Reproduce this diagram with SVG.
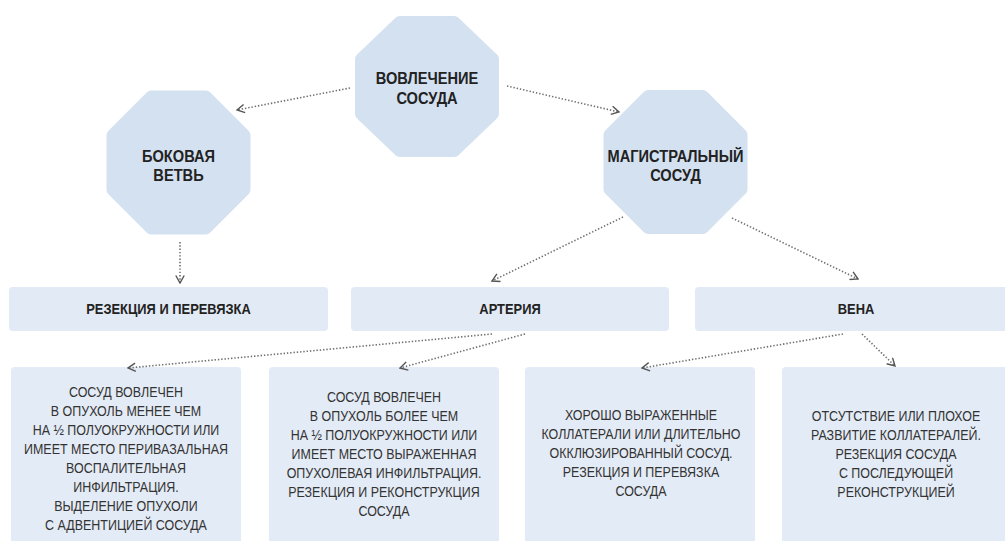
<svg xmlns="http://www.w3.org/2000/svg" width="1005" height="541" viewBox="0 0 1005 541">
<style>
.oct{fill:#d4e1f0;stroke:#d4e1f0;stroke-width:12;stroke-linejoin:round}
.hdr{fill:#e2eaf5}
.box{fill:#e3ebf6}
.bl{font-family:"Liberation Sans",Arial,sans-serif;font-weight:bold;font-size:17px;fill:#222;text-anchor:middle}
.rl{font-family:"Liberation Sans",Arial,sans-serif;font-weight:bold;font-size:15px;fill:#222;text-anchor:middle}
.tx{font-family:"Liberation Sans",Arial,sans-serif;font-size:14.5px;fill:#333;text-anchor:middle}
.con{fill:none;stroke:#6f6f6f;stroke-width:1.6;stroke-dasharray:1.4 1.9;marker-end:url(#arr)}
</style>
<defs>
<marker id="arr" viewBox="0 0 10 10" refX="9" refY="5" markerWidth="10" markerHeight="10" markerUnits="userSpaceOnUse" orient="auto">
<path d="M1.5,0.8 L9,5 L1.5,9.2" fill="none" stroke="#555" stroke-width="1.4" stroke-dasharray="none"/>
</marker>
</defs>

<g id="node-vovlechenie">
<polygon class="oct" points="399.7,22 454.3,22 493,59.2 493,113.8 454.3,151 399.7,151 361,113.8 361,59.2"/>
<g transform="translate(427 0) scale(0.86 1)">
<text class="bl" x="0" y="84">ВОВЛЕЧЕНИЕ</text>
<text class="bl" x="0" y="104">СОСУДА</text>
</g>
</g>

<g id="node-bokovaya">
<polygon class="oct" points="151.2,96.5 205.8,96.5 244.5,135.2 244.5,189.8 205.8,228.5 151.2,228.5 112.5,189.8 112.5,135.2"/>
<g transform="translate(178.5 0) scale(0.86 1)">
<text class="bl" x="0" y="162">БОКОВАЯ</text>
<text class="bl" x="0" y="181">ВЕТВЬ</text>
</g>
</g>

<g id="node-magistralny">
<polygon class="oct" points="648.2,96 702.8,96 741.5,134.7 741.5,189.3 702.8,228 648.2,228 609.5,189.3 609.5,134.7"/>
<g transform="translate(675.5 0) scale(0.86 1)">
<text class="bl" x="0" y="162">МАГИСТРАЛЬНЫЙ</text>
<text class="bl" x="0" y="181">СОСУД</text>
</g>
</g>

<g id="node-rezekciya">
<rect class="hdr" x="9" y="287" width="319" height="44" rx="4"/>
<g transform="translate(168.5 0) scale(0.86 1)">
<text class="rl" x="0" y="314">РЕЗЕКЦИЯ И ПЕРЕВЯЗКА</text>
</g>
</g>

<g id="node-arteriya">
<rect class="hdr" x="351" y="287" width="318" height="44" rx="4"/>
<g transform="translate(510 0) scale(0.86 1)">
<text class="rl" x="0" y="314">АРТЕРИЯ</text>
</g>
</g>

<g id="node-vena">
<rect class="hdr" x="695" y="287" width="322" height="44" rx="4"/>
<g transform="translate(856 0) scale(0.86 1)">
<text class="rl" x="0" y="314">ВЕНА</text>
</g>
</g>

<g id="node-box1">
<rect class="box" x="11" y="367" width="230" height="190" rx="4"/>
<g transform="translate(126 0) scale(0.86 1)">
<text class="tx" x="0" y="397">СОСУД ВОВЛЕЧЕН</text>
<text class="tx" x="0" y="416">В ОПУХОЛЬ МЕНЕЕ ЧЕМ</text>
<text class="tx" x="0" y="435">НА ½ ПОЛУОКРУЖНОСТИ ИЛИ</text>
<text class="tx" x="0" y="454">ИМЕЕТ МЕСТО ПЕРИВАЗАЛЬНАЯ</text>
<text class="tx" x="0" y="473">ВОСПАЛИТЕЛЬНАЯ</text>
<text class="tx" x="0" y="492">ИНФИЛЬТРАЦИЯ.</text>
<text class="tx" x="0" y="511">ВЫДЕЛЕНИЕ ОПУХОЛИ</text>
<text class="tx" x="0" y="530">С АДВЕНТИЦИЕЙ СОСУДА</text>
</g>
</g>

<g id="node-box2">
<rect class="box" x="269" y="367" width="230" height="190" rx="4"/>
<g transform="translate(384 0) scale(0.86 1)">
<text class="tx" x="0" y="402">СОСУД ВОВЛЕЧЕН</text>
<text class="tx" x="0" y="421">В ОПУХОЛЬ БОЛЕЕ ЧЕМ</text>
<text class="tx" x="0" y="440">НА ½ ПОЛУОКРУЖНОСТИ ИЛИ</text>
<text class="tx" x="0" y="459">ИМЕЕТ МЕСТО ВЫРАЖЕННАЯ</text>
<text class="tx" x="0" y="478">ОПУХОЛЕВАЯ ИНФИЛЬТРАЦИЯ.</text>
<text class="tx" x="0" y="497">РЕЗЕКЦИЯ И РЕКОНСТРУКЦИЯ</text>
<text class="tx" x="0" y="516">СОСУДА</text>
</g>
</g>

<g id="node-box3">
<rect class="box" x="525" y="367" width="230" height="190" rx="4"/>
<g transform="translate(641 0) scale(0.86 1)">
<text class="tx" x="0" y="420">ХОРОШО ВЫРАЖЕННЫЕ</text>
<text class="tx" x="0" y="439">КОЛЛАТЕРАЛИ ИЛИ ДЛИТЕЛЬНО</text>
<text class="tx" x="0" y="458">ОККЛЮЗИРОВАННЫЙ СОСУД.</text>
<text class="tx" x="0" y="477">РЕЗЕКЦИЯ И ПЕРЕВЯЗКА</text>
<text class="tx" x="0" y="496">СОСУДА</text>
</g>
</g>

<g id="node-box4">
<rect class="box" x="782" y="367" width="230" height="190" rx="4"/>
<g transform="translate(896 0) scale(0.86 1)">
<text class="tx" x="0" y="421">ОТСУТСТВИЕ ИЛИ ПЛОХОЕ</text>
<text class="tx" x="0" y="440">РАЗВИТИЕ КОЛЛАТЕРАЛЕЙ.</text>
<text class="tx" x="0" y="459">РЕЗЕКЦИЯ СОСУДА</text>
<text class="tx" x="0" y="478">С ПОСЛЕДУЮЩЕЙ</text>
<text class="tx" x="0" y="497">РЕКОНСТРУКЦИЕЙ</text>
</g>
</g>

<g id="connectors">
<path class="con" d="M350,88 L237,110"/>
<path class="con" d="M507,86 L619,112"/>
<path class="con" d="M180,242 L180,283"/>
<path class="con" d="M623,217 L492,281"/>
<path class="con" d="M732,218 L858,279"/>
<path class="con" d="M492,334 L128,368"/>
<path class="con" d="M525,334 L400,368"/>
<path class="con" d="M843,334 L642,368"/>
<path class="con" d="M862,334 L895,366"/>
</g>
</svg>
